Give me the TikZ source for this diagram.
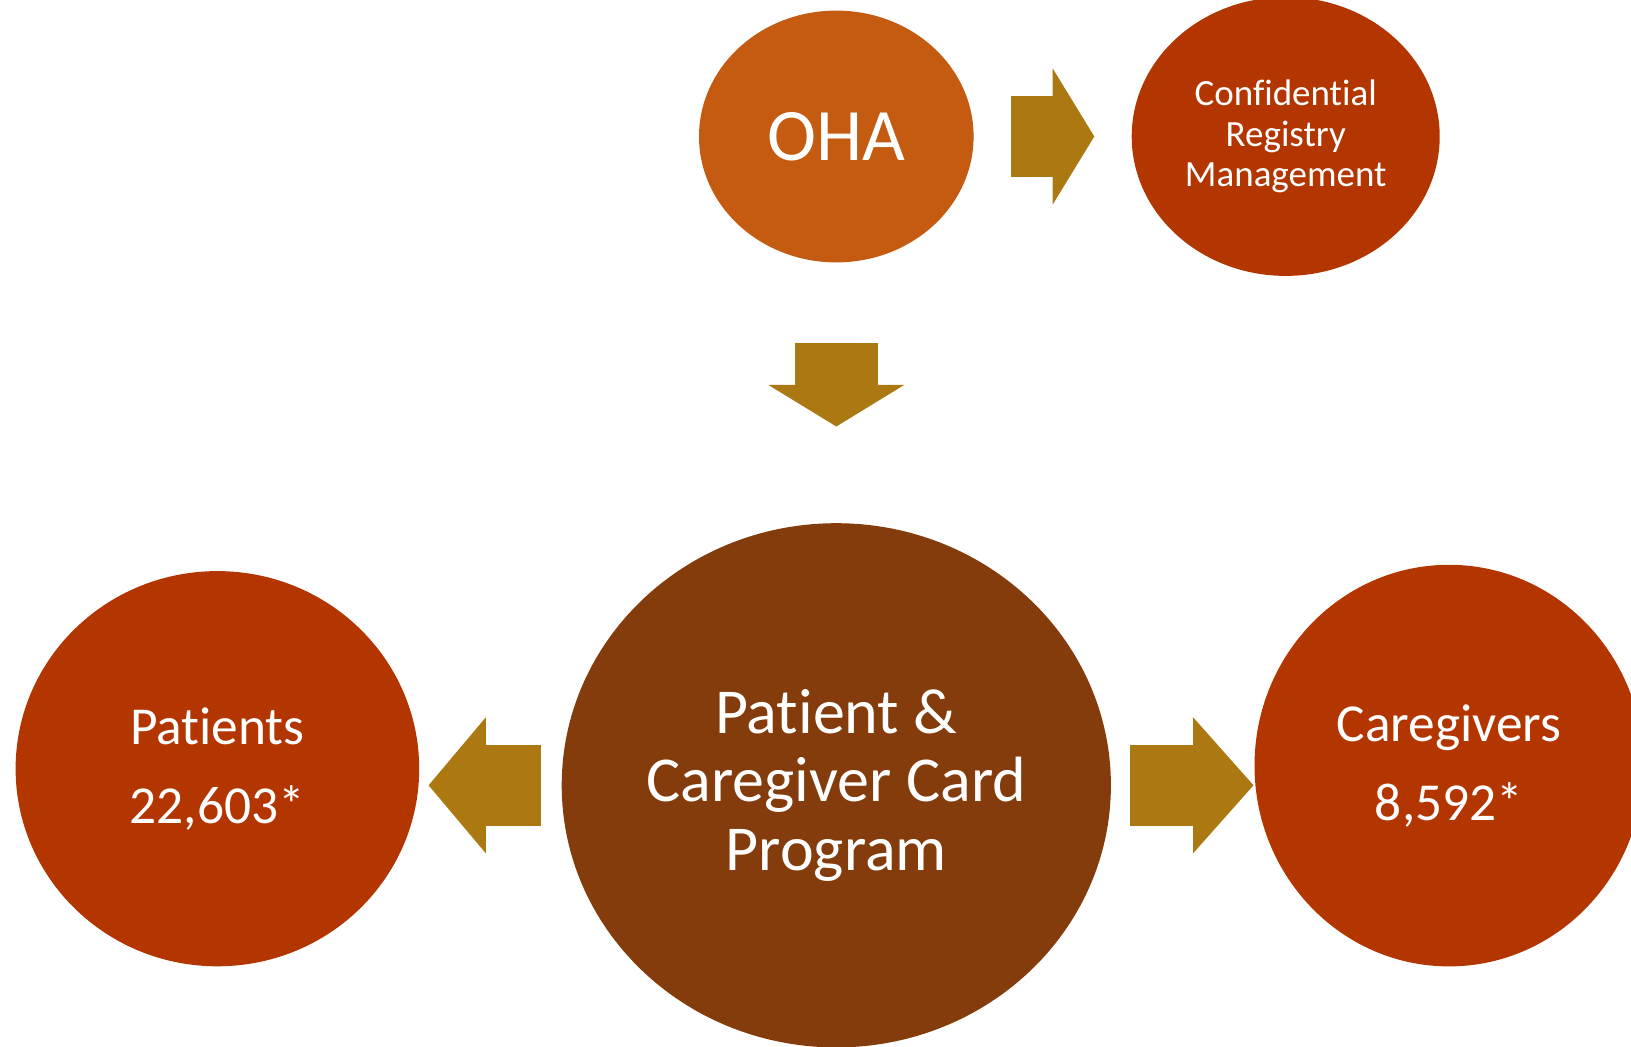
\documentclass[tikz,border=0pt]{standalone}
\usepackage{fontspec}
\setmainfont[Ligatures=CommonOff]{Carlito}
\usepackage{tikz}
\usetikzlibrary{arrows.meta,shapes.geometric}
\usepackage{xcolor}
\definecolor{ohaorange}{HTML}{C55A11}
\definecolor{rustred}{HTML}{B33500}
\definecolor{cardbrown}{HTML}{843C0C}
\definecolor{arrowgold}{HTML}{AC7811}

\begin{document}
\begin{tikzpicture}[x=0.5pt,y=-0.5pt,
	bubble/.style={ellipse,fill=#1,text=white,inner sep=0pt,outer sep=0pt,align=center},
	blockarrow/.style={draw=arrowgold,line width=40.6pt,-{Triangle[length=#1,width=68pt,line width=0pt]}}]
\path[use as bounding box] (0,0) rectangle (1631,1047);
\clip (0,0) rectangle (1631,1047);

\begin{scope}
	\node[bubble=ohaorange,minimum width=137.3pt,minimum height=125.9pt,
	 font=\fontsize{37}{40}\selectfont] (oha) at (836.3,136.5) {OHA};
	\node[bubble=rustred,minimum width=154pt,minimum height=139.4pt,
	 font=\fontsize{18.5}{20.3}\selectfont] (registry) at (1285.7,136.5) {Confidential\\
	Registry\\
	Management};
	\node[bubble=cardbrown,minimum width=274.6pt,minimum height=262.1pt,
	 font=\fontsize{32}{34.3}\selectfont] (program) at (836.3,785.3) {Patient \&\\
	Caregiver Card\\
	Program};
	\node[bubble=rustred,minimum width=201.8pt,minimum height=197.6pt,
	 font=\fontsize{26.7}{39.5}\selectfont] (patients) at (217.4,768.7) {Patients\\
	22,603*};
	\node[bubble=rustred,minimum width=194.5pt,minimum height=200.8pt,
	 font=\fontsize{26.7}{39.5}\selectfont] (caregivers) at (1449,765.6) {Caregivers\\
	8,592*};
\end{scope}

\begin{scope}
	\draw[blockarrow=20.8pt,shorten <=18.75pt,shorten >=18.7pt] (oha.east) -- (registry.west);
	\draw[blockarrow=20.8pt,line width=41.6pt,shorten <=40.5pt,shorten >=48.35pt] (oha.south) -- (program.north);
	\draw[blockarrow=28.6pt,shorten <=10.3pt,shorten >=4.7pt] (program.west) -- (patients.east |- program.west);
	\draw[blockarrow=30.2pt,shorten <=9.4pt,shorten >=0.5pt] (program.east) -- (caregivers.west |- program.east);
\end{scope}
\end{tikzpicture}
\end{document}
